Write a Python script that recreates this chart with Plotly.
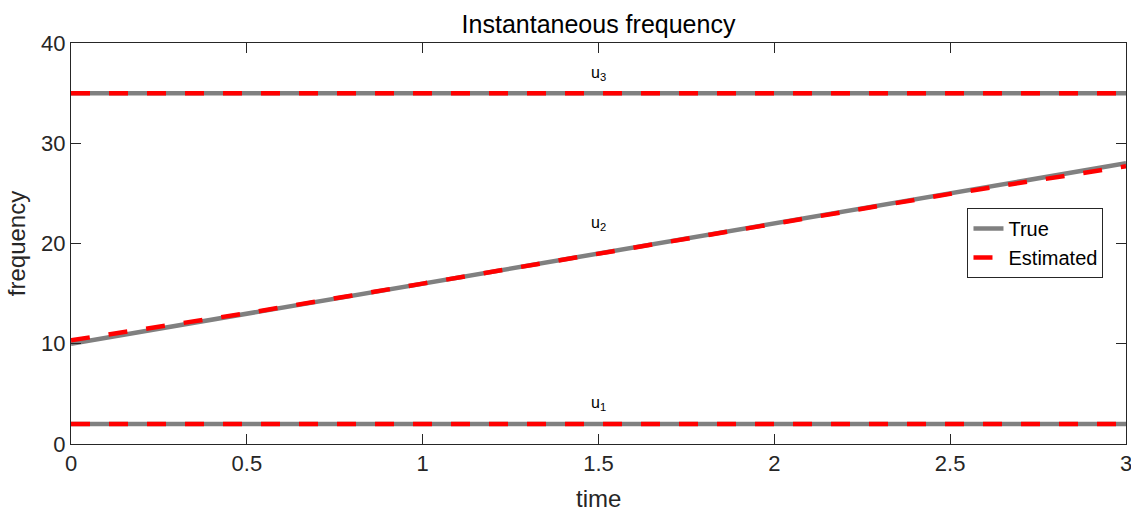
import plotly.graph_objects as go

# Time samples (s)
t = [0.0, 0.5, 1.0, 1.5, 2.0, 2.5, 3.0]

# True instantaneous frequencies of the three modes
true_u1 = [2, 2, 2, 2, 2, 2, 2]
true_u2 = [10, 13, 16, 19, 22, 25, 28]
true_u3 = [35, 35, 35, 35, 35, 35, 35]

# Estimated instantaneous frequencies
est_u1 = [2, 2, 2, 2, 2, 2, 2]
est_u2 = [10.35, 13.05, 16.0, 19.0, 22.0, 24.95, 27.7]
est_u3 = [35, 35, 35, 35, 35, 35, 35]

# Mode labels drawn above each curve at t = 1.5
mode_names = ["u<sub>1</sub>", "u<sub>2</sub>", "u<sub>3</sub>"]
label_t = 1.5
label_f = [4, 22, 37]

x_ticks = [0, 0.5, 1, 1.5, 2, 2.5, 3]
x_tick_text = ["0", "0.5", "1", "1.5", "2", "2.5", "3"]
y_ticks = [0, 10, 20, 30, 40]

GRAY = "#808080"
RED = "#ff0000"
AXIS = "#262626"
FONT = "Liberation Sans, Arial, Helvetica, sans-serif"

fig = go.Figure()

for i, tr in enumerate([true_u1, true_u2, true_u3]):
    fig.add_trace(go.Scatter(
        x=t, y=tr, mode="lines", name="True",
        line=dict(color=GRAY, width=4.5),
        showlegend=(i == 0),
    ))
for i, es in enumerate([est_u1, est_u2, est_u3]):
    fig.add_trace(go.Scatter(
        x=t, y=es, mode="lines", name="Estimated",
        line=dict(color=RED, width=4.5, dash="19px,19px"),
        showlegend=(i == 0),
    ))

for name, f in zip(mode_names, label_f):
    fig.add_annotation(
        x=label_t, y=f, text=name, showarrow=False,
        xanchor="center", yanchor="middle",
        font=dict(family=FONT, size=16, color="#000000"),
    )

# x-axis label, sitting low and partly cut by the page edge
fig.add_annotation(
    x=0.5, y=-0.135, xref="paper", yref="paper",
    text="time", showarrow=False, xanchor="center", yanchor="middle",
    font=dict(family=FONT, size=24, color=AXIS),
)

axis_common = dict(
    showline=True, linecolor=AXIS, linewidth=1, mirror="ticks",
    ticks="inside", ticklen=10, tickcolor=AXIS, tickwidth=1,
    showgrid=False, zeroline=False, ticklabeloverflow="allow",
    automargin=False,
    tickfont=dict(family=FONT, size=22, color=AXIS),
)

fig.update_layout(
    width=1131, height=507,
    margin=dict(l=71, r=5, t=43, b=63),
    paper_bgcolor="white", plot_bgcolor="white",
    font=dict(family=FONT, color=AXIS),
    title=dict(
        text="Instantaneous frequency",
        x=(71 + 1126) / 2 / 1131, xanchor="center",
        y=1 - 24 / 507, yanchor="middle",
        font=dict(family=FONT, size=25, color="#000000"),
    ),
    xaxis=dict(
        range=[0, 3], tickvals=x_ticks, ticktext=x_tick_text,
        **axis_common,
    ),
    yaxis=dict(
        range=[0, 40], tickvals=y_ticks,
        title=dict(text="frequency", font=dict(family=FONT, size=24, color=AXIS), standoff=8),
        **axis_common,
    ),
    legend=dict(
        x=0.9142, y=0.501, xanchor="center", yanchor="middle",
        bgcolor="white", bordercolor=AXIS, borderwidth=1,
        font=dict(family=FONT, size=20, color="#000000"),
        tracegroupgap=0,
    ),
    showlegend=True,
)

fig.write_html("out.html")
